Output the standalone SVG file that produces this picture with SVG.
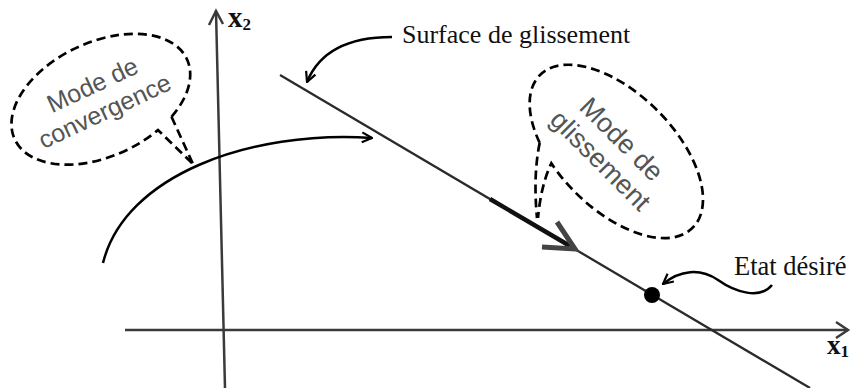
<svg xmlns="http://www.w3.org/2000/svg" width="853" height="388" viewBox="0 0 853 388">
<defs>
<style>
.axis{stroke:#3a3a3a;stroke-width:2.5;fill:none}
.line{stroke:#2a2a2a;stroke-width:2.3;fill:none}
.curve{stroke:#000;stroke-width:2.5;fill:none}
.dash{stroke:#000;stroke-width:2.7;fill:none;stroke-dasharray:9 5}
.lbl{font-family:"Liberation Serif","Times New Roman",serif;fill:#111}
.bub{font-family:"Liberation Sans",Arial,sans-serif;fill:#555;text-anchor:middle}
</style>
<marker id="open" viewBox="0 0 12 12" refX="11" refY="6" markerWidth="12" markerHeight="12" markerUnits="userSpaceOnUse" orient="auto">
<path d="M1,1 L11,6 L1,11" fill="none" stroke="#000" stroke-width="2.2"/>
</marker>
</defs>
<rect width="853" height="388" fill="#fff"/>
<g id="axes">
<path class="axis" d="M225,388 L216,11"/>
<path class="axis" d="M209,25 L216,11 L223,24"/>
<path class="axis" d="M125,330 L848,330"/>
<path class="axis" d="M836,322 L848,330 L836,338"/>
<text class="lbl" x="228" y="27" font-size="29" font-weight="bold">x<tspan font-size="17" dy="3">2</tspan></text>
<text class="lbl" x="827" y="354" font-size="27" font-weight="bold">x<tspan font-size="17" dy="3">1</tspan></text>
</g>
<g id="surface">
<path class="line" d="M280,75 L810,388"/>
<path d="M490,199 L570,246" stroke="#111" stroke-width="4.5" fill="none"/>
<path d="M557,222 L575,249 L542,247" stroke="#444" stroke-width="5" fill="none" stroke-linejoin="miter"/>
</g>
<g id="etat">
<circle cx="652" cy="295" r="8" fill="#000"/>
<text class="lbl" x="734" y="275" font-size="26.5">Etat désiré</text>
</g>
<g id="surface-label">
<text class="lbl" x="402" y="43" font-size="26">Surface de glissement</text>
</g>
<g id="bubble-convergence">
<path class="dash" d="M171.5,116.8 A95,57 -25 1 0 158,130 L193,164 M171.5,116.8 L193,164"/>
<g transform="translate(99,99) rotate(-25)">
<text class="bub" x="0" y="-7" font-size="25">Mode de</text>
<text class="bub" x="0" y="22" font-size="25">convergence</text>
</g>
</g>
<g id="bubble-glissement">
<path class="dash" d="M539.7,142.9 A108,58 45 1 1 551.3,163.3 Q541,185 538,218 M539.7,142.9 Q533,175 537,218"/>
<g transform="translate(611,150) rotate(45)">
<text class="bub" x="0" y="-6" font-size="27">Mode de</text>
<text class="bub" x="0" y="24" font-size="27">glissement</text>
</g>
</g>
<g id="connectors">
<path class="curve" d="M103,263 C125,175 250,130 372,138" marker-end="url(#open)"/>
<path class="curve" d="M392,37 C350,37 320,50 307,82" marker-end="url(#open)"/>
<path class="curve" d="M772,285 C760,300 735,292 718,280 C700,268 680,270 663,284" marker-end="url(#open)"/>
</g>
</svg>
